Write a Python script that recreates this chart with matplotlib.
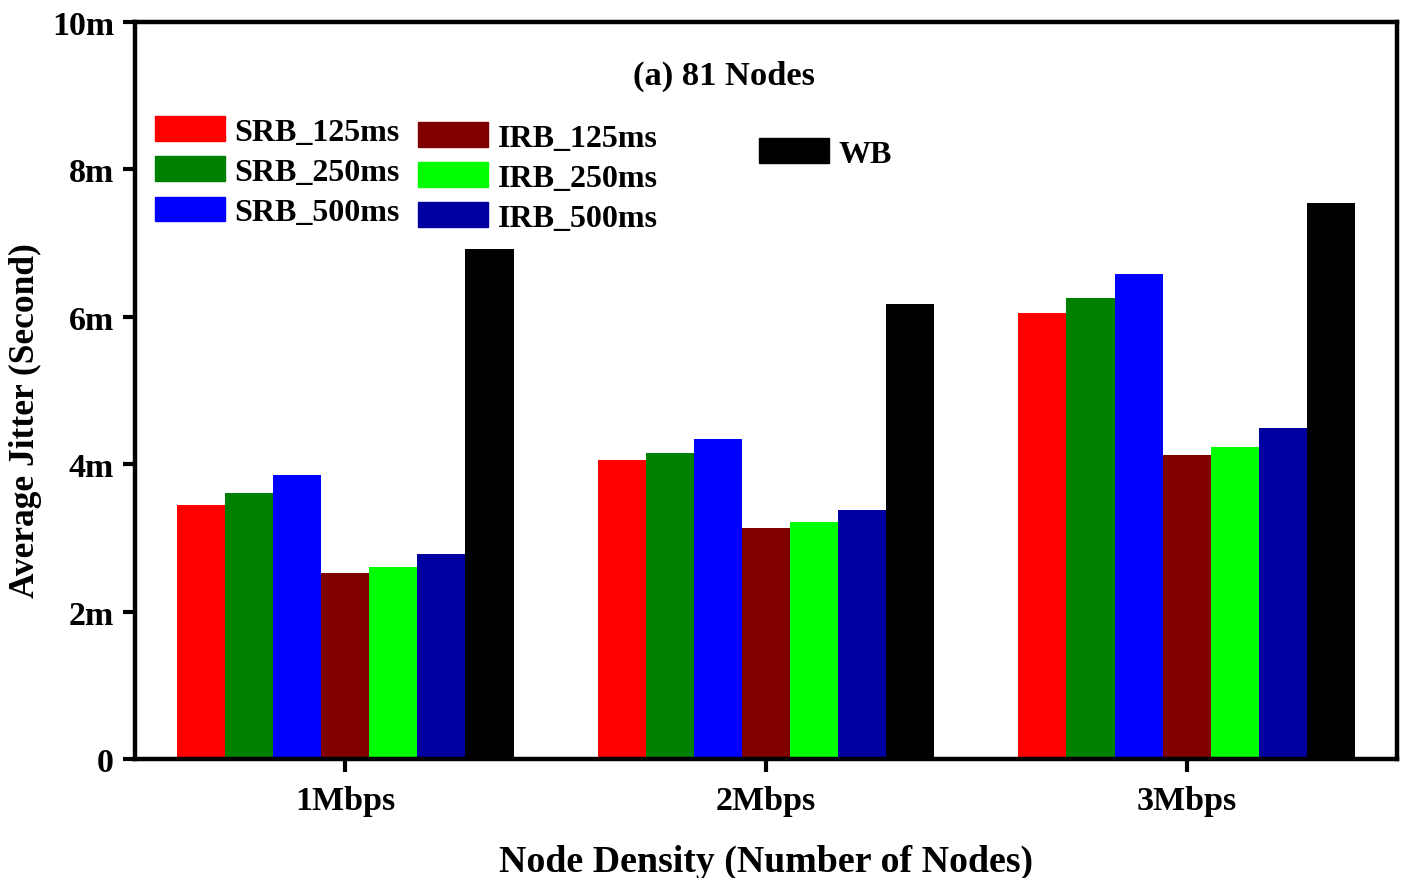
import matplotlib
matplotlib.use("Agg")
import matplotlib.pyplot as plt
import numpy as np
from matplotlib.patches import Patch
from matplotlib.ticker import FuncFormatter

# Average jitter in milliseconds for each scheme at each data rate
rates = ["1Mbps", "2Mbps", "3Mbps"]
srb_125 = [3.45, 4.06, 6.05]
srb_250 = [3.61, 4.15, 6.26]
srb_500 = [3.86, 4.34, 6.58]
irb_125 = [2.53, 3.13, 4.12]
irb_250 = [2.61, 3.21, 4.24]
irb_500 = [2.78, 3.38, 4.49]
wb = [6.92, 6.18, 7.54]

series_names = ["SRB_125ms", "SRB_250ms", "SRB_500ms",
                "IRB_125ms", "IRB_250ms", "IRB_500ms", "WB"]
series_values = [srb_125, srb_250, srb_500, irb_125, irb_250, irb_500, wb]
series_colors = ["#FF0000", "#008000", "#0000FF",
                 "#800000", "#00FF00", "#0000A0", "#000000"]

plt.rcParams["font.family"] = ["Liberation Serif", "DejaVu Serif"]
plt.rcParams["font.weight"] = "bold"

fig = plt.figure(figsize=(14.07, 8.79), dpi=100)
ax = fig.add_axes([0.0959, 0.1354, 0.8970, 0.8384])

x = np.arange(1, len(rates) + 1)
n = len(series_values)
width = 0.8 / n
bars = []
for i, (vals, col) in enumerate(zip(series_values, series_colors)):
    offs = (i - (n - 1) / 2) * width
    b = ax.bar(x + offs, vals, width, color=col, linewidth=0)
    bars.append(b)

ax.set_xlim(0.5, 3.5)
ax.set_ylim(0, 10)
ax.set_xticks(x)
ax.set_xticklabels(rates)
ax.set_yticks([0, 2, 4, 6, 8, 10])
ax.yaxis.set_major_formatter(FuncFormatter(lambda v, p: "0" if v == 0 else f"{v:g}m"))

for s in ax.spines.values():
    s.set_linewidth(3.2)
ax.tick_params(axis="both", which="major", direction="out", length=9,
               width=3, labelsize=24.5, pad=6)
ax.tick_params(axis="x", pad=10)
ax.tick_params(top=False, right=False)

ax.set_xlabel("Node Density (Number of Nodes)", fontsize=27.3, fontweight="bold")
ax.xaxis.set_label_coords(0.5, -0.115)
ax.set_ylabel("Average Jitter (Second)", fontsize=25.5, fontweight="bold")
ax.yaxis.set_label_coords(-0.0737, 0.461)

ax.text(0.467, 0.927, "(a) 81 Nodes", transform=ax.transAxes,
        ha="center", va="center", fontsize=24.8, fontweight="bold")

leg_kw = dict(frameon=False, fontsize=23, handlelength=2.2, handleheight=0.82,
              handletextpad=0.3, labelspacing=0.3, borderpad=0, borderaxespad=0,
              loc="upper left")

h1 = [Patch(color=c) for c in series_colors[:3]]
leg1 = ax.legend(h1, series_names[:3], bbox_to_anchor=(0.0158, 0.872), **leg_kw)
ax.add_artist(leg1)

h2 = [Patch(color=c) for c in series_colors[3:6]]
leg2 = ax.legend(h2, series_names[3:6], bbox_to_anchor=(0.2242, 0.864), **leg_kw)
ax.add_artist(leg2)

h3 = [Patch(color=series_colors[6])]
leg3 = ax.legend(h3, series_names[6:], bbox_to_anchor=(0.4945, 0.842), **leg_kw)

fig.savefig("out.png", dpi=100)
